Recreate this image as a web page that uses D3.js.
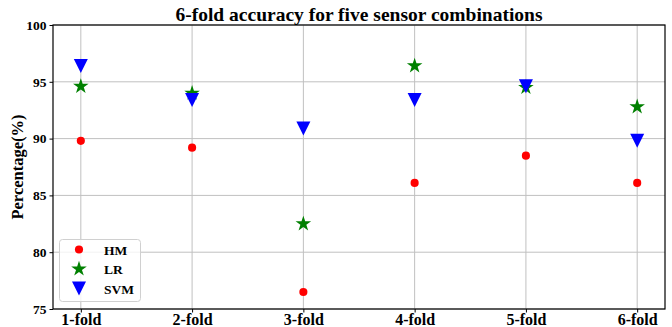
<!DOCTYPE html>
<html>
<head>
<meta charset="utf-8">
<script src="https://cdn.jsdelivr.net/npm/d3@7.9.0/dist/d3.min.js"></script>
<style>
    body { margin: 0; background: #fff; }
    svg { display: block; font-family: 'Liberation Serif', 'Times New Roman', serif; font-weight: bold; }
</style>
</head>
<body>
<svg id="chart" width="672" height="327"></svg>
<script>
const folds = ['1-fold', '2-fold', '3-fold', '4-fold', '5-fold', '6-fold'];
const hm = [89.8, 89.2, 76.5, 86.1, 88.5, 86.1];
const lr = [94.6, 94.0, 82.5, 96.4, 94.5, 92.8];
const svm = [96.4, 93.4, 90.9, 93.4, 94.6, 89.8];
const yTicks = [75, 80, 85, 90, 95, 100];

const margin = { top: 25, right: 7, bottom: 18, left: 53 };
const width = 672, height = 327;

const svg = d3.select('#chart');

const x = d3.scaleLinear()
    .domain([0.75, folds.length + 0.25])
    .range([margin.left, width - margin.right]);

const y = d3.scaleLinear()
    .domain([75, 100])
    .range([height - margin.bottom, margin.top]);

// grid
svg.append('g')
    .selectAll('line')
    .data(yTicks)
    .join('line')
    .attr('x1', margin.left)
    .attr('x2', width - margin.right)
    .attr('y1', d => y(d))
    .attr('y2', d => y(d))
    .attr('stroke', '#c0c0c0')
    .attr('stroke-width', 1);

svg.append('g')
    .selectAll('line')
    .data(folds)
    .join('line')
    .attr('x1', (d, i) => x(i + 1))
    .attr('x2', (d, i) => x(i + 1))
    .attr('y1', margin.top)
    .attr('y2', height - margin.bottom)
    .attr('stroke', '#c0c0c0')
    .attr('stroke-width', 1);

// axes
const yAxis = svg.append('g')
    .attr('transform', `translate(${margin.left},0)`)
    .call(d3.axisLeft(y).tickValues(yTicks).tickSize(3.5).tickPadding(3));

const xAxis = svg.append('g')
    .attr('transform', `translate(0,${height - margin.bottom})`)
    .call(d3.axisBottom(x).tickValues(d3.range(1, folds.length + 1))
        .tickFormat(d => folds[d - 1]).tickSize(3.5).tickPadding(1));

yAxis.attr('font-family', null).attr('font-size', null);
xAxis.attr('font-family', null).attr('font-size', null);
yAxis.selectAll('text').style('font-size', '13.5px').attr('fill', '#000');
xAxis.selectAll('text').style('font-size', '16px').attr('fill', '#000');
svg.selectAll('.domain').remove();

// frame
svg.append('rect')
    .attr('x', margin.left)
    .attr('y', margin.top)
    .attr('width', width - margin.left - margin.right)
    .attr('height', height - margin.top - margin.bottom)
    .attr('fill', 'none')
    .attr('stroke', '#000')
    .attr('stroke-width', 1.2);

// markers
const circle = d3.symbol().type(d3.symbolCircle).size(52)();
const star = d3.symbol().type(d3.symbolStar).size(75)();
const tri = (r) => `M${-r},${-r}L${r},${-r}L0,${r}Z`;

function drawSeries(values, path, color) {
    svg.append('g')
        .selectAll('path')
        .data(values)
        .join('path')
        .attr('transform', (d, i) => `translate(${x(i + 1)},${y(d)})`)
        .attr('d', path)
        .attr('fill', color);
}

drawSeries(hm, circle, '#ff0000');
drawSeries(lr, star, '#008000');
drawSeries(svm, tri(7), '#0000ff');

// title and label
svg.append('text')
    .attr('x', (margin.left + width - margin.right) / 2)
    .attr('y', 21)
    .attr('text-anchor', 'middle')
    .style('font-size', '19.5px')
    .text('6-fold accuracy for five sensor combinations');

svg.append('text')
    .attr('transform', `translate(23,${(margin.top + height - margin.bottom) / 2}) rotate(-90)`)
    .attr('text-anchor', 'middle')
    .style('font-size', '16.5px')
    .text('Percentage(%)');

// legend
const legendItems = [
    { name: 'HM', path: circle, color: '#ff0000' },
    { name: 'LR', path: star, color: '#008000' },
    { name: 'SVM', path: tri(7), color: '#0000ff' }
];

const legend = svg.append('g');
legend.append('rect')
    .attr('x', 59.5)
    .attr('y', 239.5)
    .attr('width', 81)
    .attr('height', 62)
    .attr('rx', 3)
    .attr('fill', 'rgba(255,255,255,0.8)')
    .attr('stroke', '#d0d0d0');

const rows = legend.selectAll('g.item')
    .data(legendItems)
    .join('g')
    .attr('class', 'item')
    .attr('transform', (d, i) => `translate(79,${249.5 + i * 19.5})`);

rows.append('path')
    .attr('d', d => d.path)
    .attr('fill', d => d.color);

rows.append('text')
    .attr('x', 25)
    .attr('y', 5)
    .style('font-size', '13.5px')
    .text(d => d.name);
</script>
</body>
</html>
